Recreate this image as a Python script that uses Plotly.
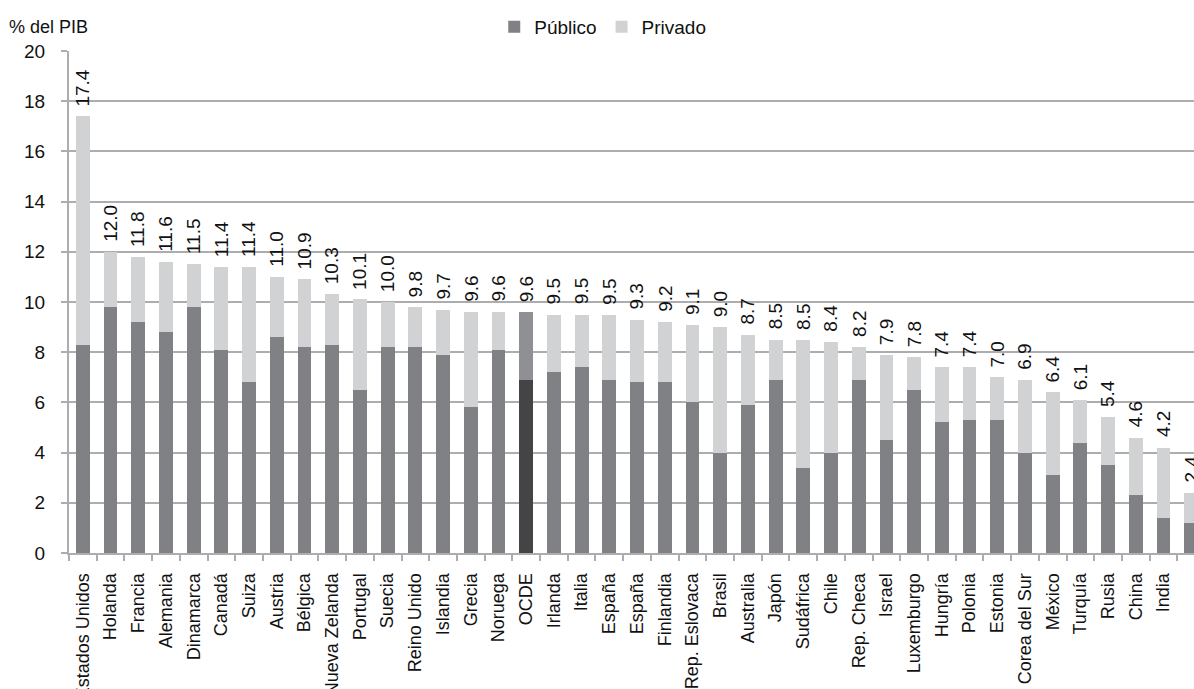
import plotly.graph_objects as go

# Gasto en salud como % del PIB, por país (público + privado = total)
paises = [
    "Estados Unidos", "Holanda", "Francia", "Alemania", "Dinamarca", "Canadá",
    "Suiza", "Austria", "Bélgica", "Nueva Zelanda", "Portugal", "Suecia",
    "Reino Unido", "Islandia", "Grecia", "Noruega", "OCDE", "Irlanda", "Italia",
    "España", "España", "Finlandia", "Rep. Eslovaca", "Brasil", "Australia",
    "Japón", "Sudáfrica", "Chile", "Rep. Checa", "Israel", "Luxemburgo",
    "Hungría", "Polonia", "Estonia", "Corea del Sur", "México", "Turquía",
    "Rusia", "China", "India", "Indonesia",
]
publico = [
    8.3, 9.8, 9.2, 8.8, 9.8, 8.1, 6.8, 8.6, 8.2, 8.3, 6.5, 8.2,
    8.2, 7.9, 5.8, 8.1, 6.9, 7.2, 7.4, 6.9, 6.8, 6.8, 6.0, 4.0, 5.9,
    6.9, 3.4, 4.0, 6.9, 4.5, 6.5, 5.2, 5.3, 5.3, 4.0, 3.1, 4.4,
    3.5, 2.3, 1.4, 1.2,
]
total = [
    17.4, 12.0, 11.8, 11.6, 11.5, 11.4, 11.4, 11.0, 10.9, 10.3, 10.1, 10.0,
    9.8, 9.7, 9.6, 9.6, 9.6, 9.5, 9.5, 9.5, 9.3, 9.2, 9.1, 9.0, 8.7,
    8.5, 8.5, 8.4, 8.2, 7.9, 7.8, 7.4, 7.4, 7.0, 6.9, 6.4, 6.1,
    5.4, 4.6, 4.2, 2.4,
]
y_ticks = [0, 2, 4, 6, 8, 10, 12, 14, 16, 18, 20]

privado = [round(t - p, 2) for t, p in zip(total, publico)]
x = list(range(len(paises)))

FONT = "Liberation Sans, Arial, sans-serif"
C_PUB, C_PRIV = "#808185", "#d1d2d4"
C_PUB_OCDE, C_PRIV_OCDE = "#444446", "#8f9094"
GRID = "#adadb0"
TXT = "#111111"

col_pub = [C_PUB_OCDE if p == "OCDE" else C_PUB for p in paises]
col_priv = [C_PRIV_OCDE if p == "OCDE" else C_PRIV for p in paises]

fig = go.Figure()
fig.add_trace(go.Bar(x=x, y=publico, name="Público",
                     marker=dict(color=col_pub, line=dict(width=0))))
fig.add_trace(go.Bar(x=x, y=privado, name="Privado",
                     marker=dict(color=col_priv, line=dict(width=0))))

# Etiquetas del total, verticales sobre cada barra
for xi, t in zip(x, total):
    fig.add_annotation(x=xi, y=t, text=f"{t:.1f}", textangle=-90,
                       showarrow=False, xanchor="center", yanchor="bottom",
                       yshift=8, font=dict(family=FONT, size=19, color=TXT))

# Título del eje Y
fig.add_annotation(xref="paper", yref="paper", x=-0.0555, y=1.048,
                   xanchor="left", yanchor="middle", text="% del PIB",
                   showarrow=False, font=dict(family=FONT, size=18, color=TXT))

fig.update_layout(
    width=1194, height=689,
    margin=dict(l=69, r=0, t=51, b=136, autoexpand=False),
    plot_bgcolor="white", paper_bgcolor="white",
    barmode="stack", bargap=0.5,
    font=dict(family=FONT, size=18, color=TXT),
    showlegend=True,
    legend=dict(orientation="h", x=0.378, xanchor="left", y=1.086, yanchor="top",
                font=dict(family=FONT, size=19, color=TXT),
                itemwidth=30, traceorder="normal", bgcolor="rgba(0,0,0,0)"),
    xaxis=dict(
        range=[-0.5, 40.1], tickmode="array", tickvals=x, ticktext=paises,
        tickangle=-90, ticks="", ticklabelstandoff=11, automargin=False,
        showline=True, linecolor=GRID, linewidth=2, showgrid=False,
        zeroline=False, tickfont=dict(family=FONT, size=18, color=TXT),
        minor=dict(ticks="outside", tick0=-0.5, dtick=1, ticklen=6,
                   tickcolor=GRID, tickwidth=2, showgrid=False),
    ),
    yaxis=dict(
        range=[0, 20], tickvals=y_ticks, ticks="outside", ticklen=6,
        tickcolor=GRID, tickwidth=2, ticklabelstandoff=12, automargin=False,
        showgrid=True, gridcolor=GRID, gridwidth=2, zeroline=False,
        showline=True, linecolor=GRID, linewidth=2,
        tickfont=dict(family=FONT, size=19, color=TXT),
    ),
)

fig.write_html("out.html")
